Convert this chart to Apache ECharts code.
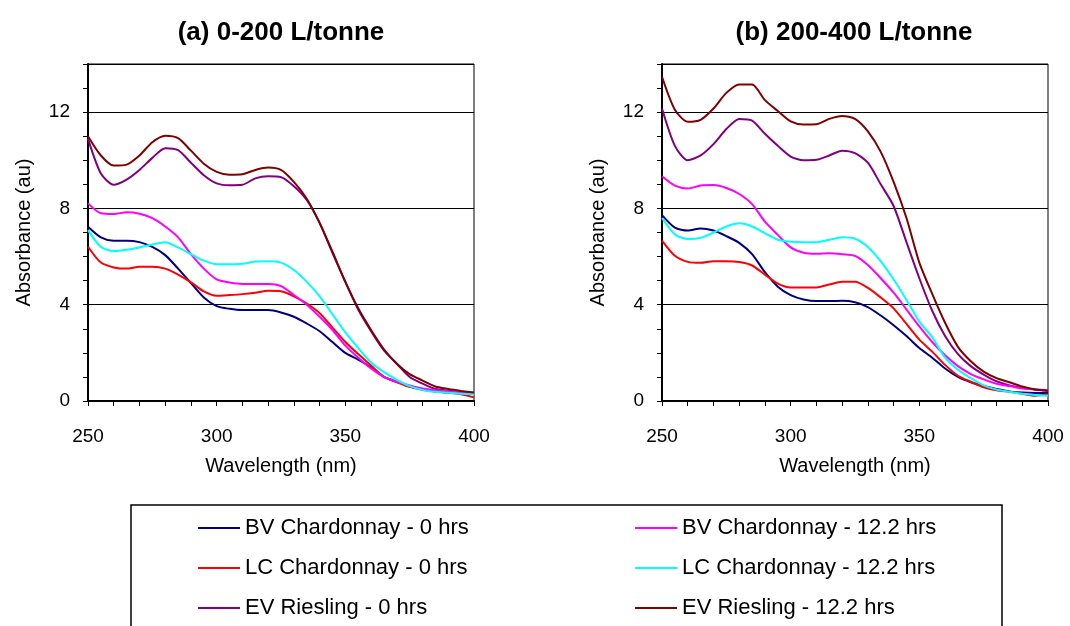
<!DOCTYPE html>
<html>
<head>
<meta charset="utf-8">
<script src="https://cdn.jsdelivr.net/npm/echarts@6/dist/echarts.min.js"></script>
<style>
html,body{margin:0;padding:0;background:#fff;}
#chart{width:1070px;height:626px;}
</style>
</head>
<body>
<div id="chart"></div>
<script>
// Wavelength (nm)
const wavelengths = [250,255,260,265,270,275,280,285,290,295,300,305,310,315,320,325,330,335,340,345,350,355,360,365,370,375,380,385,390,395,400];

const seriesNames = ['BV Chardonnay - 0 hrs','LC Chardonnay - 0 hrs','EV Riesling - 0 hrs','BV Chardonnay - 12.2 hrs','LC Chardonnay - 12.2 hrs','EV Riesling - 12.2 hrs'];
const seriesColors = ['#000080','#FF0000','#800080','#FF00FF','#00FFFF','#800000'];

const panelTitles = ['(a) 0-200 L/tonne','(b) 200-400 L/tonne'];
const xTickLabels = [250,300,350,400];
const yTickLabels = [0,4,8,12];

// (a) 0-200 L/tonne
const a_bv0   = [7.24,6.8,6.66,6.66,6.6,6.4,6.06,5.5,4.9,4.3,3.94,3.83,3.78,3.78,3.78,3.68,3.5,3.22,2.9,2.45,2.0,1.72,1.4,1.0,0.8,0.6,0.5,0.4,0.35,0.33,0.32];
const a_lc0   = [6.41,5.75,5.55,5.5,5.58,5.58,5.5,5.25,4.93,4.55,4.37,4.4,4.44,4.5,4.58,4.56,4.35,4.05,3.65,3.05,2.45,1.95,1.48,1.0,0.78,0.59,0.47,0.39,0.34,0.28,0.15];
const a_ev0   = [10.9,9.45,8.98,9.2,9.6,10.1,10.5,10.42,9.9,9.38,9.04,8.96,8.98,9.25,9.34,9.3,8.92,8.35,7.4,6.15,4.95,3.8,2.9,2.1,1.55,1.0,0.72,0.5,0.43,0.38,0.33];
const a_bv12  = [8.21,7.8,7.77,7.84,7.78,7.6,7.25,6.8,6.1,5.5,5.05,4.92,4.86,4.86,4.86,4.77,4.4,4.0,3.5,2.95,2.3,1.8,1.35,1.0,0.8,0.65,0.52,0.45,0.4,0.35,0.33];
const a_lc12  = [7.1,6.4,6.23,6.28,6.38,6.5,6.59,6.38,6.1,5.83,5.68,5.68,5.7,5.8,5.81,5.75,5.44,4.95,4.35,3.6,2.85,2.2,1.6,1.2,0.88,0.62,0.46,0.38,0.34,0.3,0.28];
const a_ev12  = [11.0,10.2,9.78,9.82,10.2,10.75,11.02,10.92,10.4,9.86,9.52,9.4,9.42,9.6,9.7,9.6,9.1,8.4,7.4,6.2,4.95,3.85,2.95,2.15,1.55,1.12,0.85,0.6,0.5,0.42,0.35];

// (b) 200-400 L/tonne
const b_bv0   = [7.72,7.2,7.08,7.17,7.08,6.85,6.57,6.1,5.35,4.75,4.4,4.22,4.15,4.15,4.16,4.1,3.9,3.55,3.15,2.7,2.2,1.8,1.35,1.0,0.78,0.62,0.5,0.4,0.35,0.33,0.33];
const b_lc0   = [6.66,6.03,5.78,5.74,5.81,5.81,5.77,5.63,5.25,4.88,4.72,4.72,4.72,4.84,4.95,4.95,4.7,4.3,3.85,3.2,2.55,2.05,1.5,1.05,0.8,0.57,0.45,0.38,0.3,0.22,0.28];
const b_ev0   = [12.15,10.6,10.0,10.2,10.67,11.3,11.72,11.65,11.1,10.6,10.15,10.0,10.02,10.2,10.4,10.3,9.9,9.0,8.1,6.6,5.1,3.75,2.7,1.95,1.45,1.1,0.82,0.65,0.55,0.48,0.43];
const b_bv12  = [9.34,8.95,8.83,8.95,8.97,8.85,8.6,8.18,7.45,6.9,6.38,6.16,6.12,6.14,6.1,6.03,5.65,5.1,4.5,3.8,3.1,2.45,1.9,1.45,1.12,0.9,0.72,0.62,0.52,0.48,0.45];
const b_lc12  = [7.6,6.92,6.73,6.78,7.0,7.25,7.38,7.25,6.96,6.7,6.62,6.6,6.6,6.7,6.8,6.74,6.4,5.8,5.05,4.2,3.3,2.65,1.8,1.3,0.95,0.65,0.48,0.38,0.3,0.25,0.22];
const b_ev12  = [13.47,12.1,11.6,11.68,12.15,12.8,13.15,13.15,12.5,12.05,11.62,11.49,11.5,11.72,11.84,11.72,11.2,10.35,9.1,7.6,5.75,4.45,3.25,2.25,1.65,1.22,0.95,0.78,0.6,0.48,0.43];

const panelA = [a_bv0,a_lc0,a_ev0,a_bv12,a_lc12,a_ev12];
const panelB = [b_bv0,b_lc0,b_ev0,b_bv12,b_lc12,b_ev12];

const FONT = "'Liberation Sans', Arial, sans-serif";

const grids = [
  {left:88, width:386, top:64, height:337, show:true, borderColor:'#000', borderWidth:1},
  {left:662, width:386, top:64, height:337, show:true, borderColor:'#000', borderWidth:1}
];

function xAxisFor(gi){
  return {
    type:'value', gridIndex:gi, min:250, max:400, interval:10,
    name:'Wavelength (nm)', nameLocation:'middle', nameGap:55,
    nameTextStyle:{fontFamily:FONT, fontSize:20, color:'#000'},
    axisLine:{show:true, onZero:false, lineStyle:{color:'#000', width:2}},
    axisTick:{show:true, length:5, inside:false, lineStyle:{color:'#000', width:1}},
    axisLabel:{margin:26, fontFamily:FONT, fontSize:19, color:'#000',
      formatter:function(v){ return xTickLabels.indexOf(v) >= 0 ? String(v) : ''; }},
    splitLine:{show:false}
  };
}
function yAxisMinor(gi){
  return {
    type:'value', gridIndex:gi, min:0, max:14, interval:1, position:'left',
    name:'Absorbance (au)', nameLocation:'middle', nameGap:54, nameRotate:90,
    nameTextStyle:{fontFamily:FONT, fontSize:20, color:'#000'},
    axisLine:{show:true, lineStyle:{color:'#000', width:2}},
    axisTick:{show:true, length:5, lineStyle:{color:'#000', width:1}},
    axisLabel:{show:false},
    splitLine:{show:false}
  };
}
function yAxisMajor(gi){
  return {
    type:'value', gridIndex:gi, min:0, max:14, interval:4, position:'left', offset:0,
    axisLine:{show:false}, axisTick:{show:false},
    axisLabel:{margin:18, fontFamily:FONT, fontSize:19, color:'#000',
      formatter:function(v){ return yTickLabels.indexOf(v) >= 0 ? String(v) : ''; }},
    splitLine:{show:true, lineStyle:{color:'#000', width:1}}
  };
}

const series = [];
[panelA, panelB].forEach(function(panel, gi){
  panel.forEach(function(vals, si){
    series.push({
      name: seriesNames[si], type:'line', xAxisIndex:gi, yAxisIndex:gi*2,
      data: wavelengths.map(function(w,i){ return [w, vals[i]]; }),
      symbol:'none', smooth:0.25, animation:false,
      lineStyle:{color:seriesColors[si], width:2},
      itemStyle:{color:seriesColors[si]}
    });
  });
});

const legendText = {fontFamily:FONT, fontSize:22, color:'#000', lineHeight:22, padding:[0,0,0,0]};

const chart = echarts.init(document.getElementById('chart'), null, {renderer:'canvas'});
chart.setOption({
  backgroundColor:'#fff',
  animation:false,
  title:[
    {text:panelTitles[0], left:276, top:15, textAlign:'center',
     textStyle:{fontFamily:FONT, fontSize:26, fontWeight:'bold', color:'#000'}},
    {text:panelTitles[1], left:849, top:15, textAlign:'center',
     textStyle:{fontFamily:FONT, fontSize:26, fontWeight:'bold', color:'#000'}}
  ],
  grid: grids,
  xAxis:[xAxisFor(0), xAxisFor(1)],
  yAxis:[yAxisMinor(0), yAxisMajor(0), yAxisMinor(1), yAxisMajor(1)],
  legend:[
    {data:seriesNames.slice(0,3), orient:'vertical', left:198, top:517, height:140, padding:0,
     icon:'rect', itemWidth:42, itemHeight:2, itemGap:18, selectedMode:false, textStyle:legendText},
    {data:seriesNames.slice(3,6), orient:'vertical', left:635, top:517, height:140, padding:0,
     icon:'rect', itemWidth:42, itemHeight:2, itemGap:18, selectedMode:false, textStyle:legendText}
  ],
  graphic:[
    {type:'rect', shape:{x:131, y:505, width:871, height:140}, style:{fill:'none', stroke:'#000', lineWidth:1.5}, z:-1}
  ],
  series: series
});
</script>
</body>
</html>
